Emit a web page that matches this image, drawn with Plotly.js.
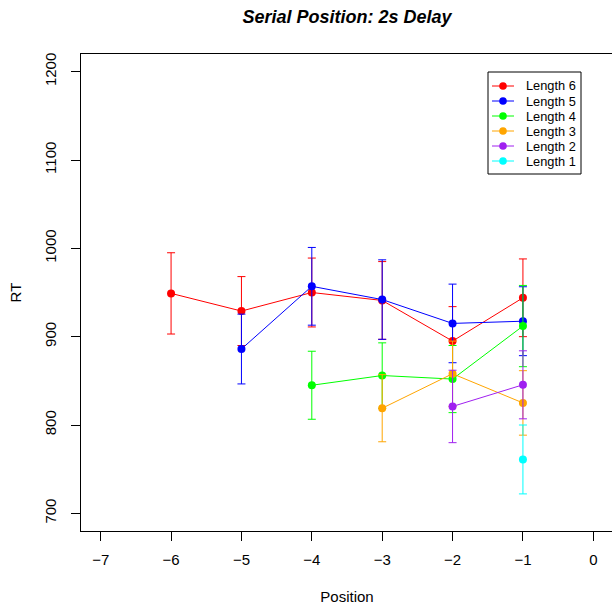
<!DOCTYPE html>
<html>
<head>
<meta charset="utf-8">
<script src="https://cdn.plot.ly/plotly-3.0.1.min.js"></script>
<style>
html, body { margin: 0; padding: 0; overflow: hidden; background: #fff; }
#chart { width: 620px; height: 607px; }
</style>
</head>
<body>
<div id="chart"></div>
<script>
// Series data (Position, mean RT, error half-width)
const seriesNames = ["Length 6", "Length 5", "Length 4", "Length 3", "Length 2", "Length 1"];
const seriesColors = ["#FF0000", "#0000FF", "#00FF00", "#FFA500", "#A020F0", "#00FFFF"];

const len6Pos = [-6, -5, -4, -3, -2, -1];
const len6RT  = [949, 929, 950, 941, 895, 944];
const len6Err = [46, 39, 39, 44, 39, 44];

const len5Pos = [-5, -4, -3, -2, -1];
const len5RT  = [886, 957, 942, 915, 917.5];
const len5Err = [39.5, 44, 45, 44.5, 39];

const len4Pos = [-4, -3, -2, -1];
const len4RT  = [845, 856, 852, 912];
const len4Err = [38.5, 37, 38, 46];

const len3Pos = [-3, -2, -1];
const len3RT  = [819, 858, 825];
const len3Err = [38, 37, 36.5];

const len2Pos = [-2, -1];
const len2RT  = [821, 845.5];
const len2Err = [41, 38.5];

const len1Pos = [-1];
const len1RT  = [761];
const len1Err = [39];

const xTicks = [-7, -6, -5, -4, -3, -2, -1, 0];
const yTicks = [700, 800, 900, 1000, 1100, 1200];

const allPos = [len6Pos, len5Pos, len4Pos, len3Pos, len2Pos, len1Pos];
const allRT  = [len6RT, len5RT, len4RT, len3RT, len2RT, len1RT];
const allErr = [len6Err, len5Err, len4Err, len3Err, len2Err, len1Err];

const traces = seriesNames.map((name, i) => ({
  type: "scatter",
  mode: "lines+markers",
  name: name,
  showlegend: false,
  x: allPos[i],
  y: allRT[i],
  line: { color: seriesColors[i], width: 1 },
  marker: { color: seriesColors[i], size: 8 },
  error_y: { type: "data", array: allErr[i], visible: true, color: seriesColors[i], thickness: 1, width: 4 }
}));

const font = "Liberation Sans, Arial, Helvetica, sans-serif";

// plot area geometry (px) used to place the R-style legend box
const M = { l: 81, r: 7, t: 54, b: 76 };
const W = 620, H = 607;
const pw = W - M.l - M.r, ph = H - M.t - M.b;
const px2x = p => (p - M.l) / pw;
const py2y = p => (H - M.b - p) / ph;

const shapes = [];
const annotations = [];
// legend box
shapes.push({ type: "rect", xref: "paper", yref: "paper",
  x0: px2x(488), x1: px2x(581), y0: py2y(174), y1: py2y(72),
  line: { color: "#000", width: 1 }, fillcolor: "#fff", layer: "above" });
seriesNames.forEach((name, i) => {
  const yy = py2y(86 + 15 * i);
  shapes.push({ type: "line", xref: "paper", yref: "paper",
    x0: px2x(492), x1: px2x(514), y0: yy, y1: yy,
    line: { color: seriesColors[i], width: 1 }, layer: "above" });
  shapes.push({ type: "circle", xref: "paper", yref: "paper",
    xsizemode: "pixel", ysizemode: "pixel", xanchor: px2x(503), yanchor: yy,
    x0: -3.8, x1: 3.8, y0: -3.8, y1: 3.8,
    line: { color: seriesColors[i], width: 0 }, fillcolor: seriesColors[i], layer: "above" });
  annotations.push({ xref: "paper", yref: "paper", x: px2x(524), y: yy,
    xanchor: "left", yanchor: "middle", showarrow: false, text: name,
    font: { family: font, size: 12.8, color: "#000" } });
});

const layout = {
  width: W,
  height: H,
  margin: M,
  paper_bgcolor: "#fff",
  plot_bgcolor: "#fff",
  font: { family: font, size: 15, color: "#000" },
  showlegend: false,
  title: {
    text: "<b><i>Serial Position: 2s Delay</i></b>",
    font: { family: font, size: 18, color: "#000" },
    x: 0.5, xref: "paper",
    y: 1 - 17 / 607, yref: "container", yanchor: "middle"
  },
  xaxis: {
    range: [-7.28, 0.28],
    tickvals: xTicks,
    ticktext: xTicks.map(v => v < 0 ? "\u2212" + Math.abs(v) : String(v)),
    ticks: "outside", ticklen: 9, tickcolor: "#000", tickwidth: 1,
    ticklabelstandoff: 6,
    showline: true, linecolor: "#000", linewidth: 1, mirror: true,
    showgrid: false, zeroline: false,
    tickfont: { family: font, size: 15, color: "#000" },
    title: { text: "Position", font: { family: font, size: 15, color: "#000" }, standoff: 24 }
  },
  yaxis: {
    range: [680, 1220],
    tickvals: yTicks,
    ticks: "outside", ticklen: 9, tickcolor: "#000", tickwidth: 1,
    tickangle: -90,
    ticklabelstandoff: 9,
    showline: true, linecolor: "#000", linewidth: 1, mirror: true,
    showgrid: false, zeroline: false,
    tickfont: { family: font, size: 15, color: "#000" },
    title: { text: "RT", font: { family: font, size: 15, color: "#000" }, standoff: 16 }
  },
  shapes: shapes,
  annotations: annotations
};

Plotly.newPlot("chart", traces, layout, { displayModeBar: false, staticPlot: true });
</script>
</body>
</html>
